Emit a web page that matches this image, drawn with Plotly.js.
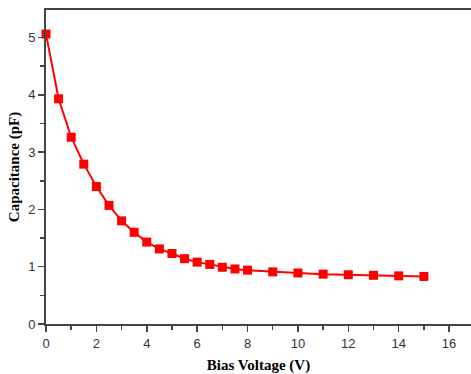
<!DOCTYPE html>
<html><head><meta charset="utf-8">
<script src="https://cdn.plot.ly/plotly-3.0.1.min.js"></script>
<style>html,body{margin:0;padding:0;background:#fff}#chart{width:471px;height:374px}</style>
</head><body><div id="chart"></div>
<script>
const biasVoltage = [0, 0.5, 1, 1.5, 2, 2.5, 3, 3.5, 4, 4.5, 5, 5.5, 6, 6.5, 7, 7.5, 8, 9, 10, 11, 12, 13, 14, 15];
const capacitance = [5.06, 3.93, 3.26, 2.79, 2.40, 2.07, 1.80, 1.60, 1.43, 1.31, 1.23, 1.14, 1.08, 1.04, 0.99, 0.96, 0.94, 0.91, 0.89, 0.87, 0.86, 0.85, 0.84, 0.83];
const xTickVals = [0, 2, 4, 6, 8, 10, 12, 14, 16];
const yTickVals = [0, 1, 2, 3, 4, 5];

const trace = {
  x: biasVoltage, y: capacitance, type: 'scatter', mode: 'lines+markers',
  line: {color: '#ff0000', width: 2},
  marker: {symbol: 'square', size: 9, color: '#ff0000'},
  cliponaxis: false
};
const axisCommon = {
  showgrid: false, zeroline: false, showline: true, linecolor: '#444', linewidth: 2,
  ticks: 'outside', ticklen: 6, tickwidth: 1.5, tickcolor: '#444',
  tickfont: {family: 'Liberation Sans, Arial, sans-serif', size: 13, color: '#333'}
};
const layout = {
  width: 471, height: 374,
  margin: {l: 46, r: 0, t: 10, b: 50},
  paper_bgcolor: '#fff', plot_bgcolor: '#fff',
  showlegend: false,
  xaxis: Object.assign({}, axisCommon, {
    range: [0, 16.87], tickmode: 'array', tickvals: xTickVals, mirror: true,
    minor: {dtick: 1, ticks: 'outside', ticklen: 4, tickwidth: 1.5, tickcolor: '#444'},
    title: {text: 'Bias Voltage (V)', standoff: 11, font: {family: 'Liberation Serif, Times New Roman, serif', size: 15, color: '#000', weight: 'bold'}}
  }),
  yaxis: Object.assign({}, axisCommon, {
    range: [0, 5.48], tickmode: 'array', tickvals: yTickVals,
    minor: {dtick: 0.5, ticks: 'outside', ticklen: 4, tickwidth: 1.5, tickcolor: '#444'},
    title: {text: 'Capacitance (pF)', standoff: 5, font: {family: 'Liberation Serif, Times New Roman, serif', size: 15, color: '#000', weight: 'bold'}}
  })
};
Plotly.newPlot('chart', [trace], layout, {displayModeBar: false, staticPlot: true});
</script></body></html>
